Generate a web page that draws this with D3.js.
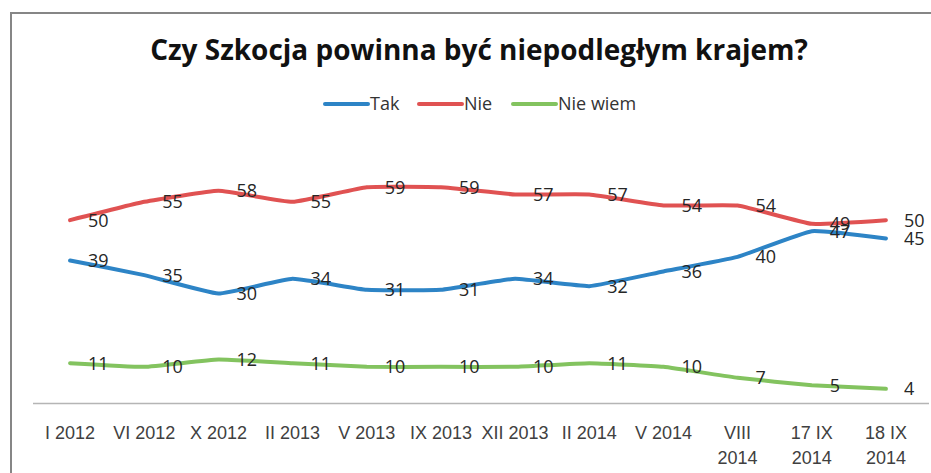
<!DOCTYPE html>
<html>
<head>
<meta charset="utf-8">
<script src="https://cdn.jsdelivr.net/npm/d3@7"></script>
<style>
  html, body { margin: 0; padding: 0; background: #fff; }
  svg { display: block; font-family: "Open Sans", "DejaVu Sans", sans-serif; }
</style>
</head>
<body>
<svg id="chart" width="931" height="473"></svg>
<script>
const title = "Czy Szkocja powinna być niepodległym krajem?";
const categories = ["I 2012", "VI 2012", "X 2012", "II 2013", "V 2013", "IX 2013",
  "XII 2013", "II 2014", "V 2014", "VIII\n2014", "17 IX\n2014", "18 IX\n2014"];
const seriesNames = ["Tak", "Nie", "Nie wiem"];
const tak     = [39, 35, 30, 34, 31, 31, 34, 32, 36, 40, 47, 45];
const nie     = [50, 55, 58, 55, 59, 59, 57, 57, 54, 54, 49, 50];
const nieWiem = [11, 10, 12, 11, 10, 10, 10, 11, 10, 7, 5, 4];
const colors  = ["#2d84c6", "#e05252", "#83c35f"];
const yDomain = [0, 70];

const series = [tak, nie, nieWiem].map((vals, i) => ({
  name: seriesNames[i], color: colors[i], values: vals
}));

const svg = d3.select("#chart");
const W = 931, H = 473;

// frame
svg.append("path")
  .attr("d", `M11,${H} L11,13 L${W},13`)
  .attr("fill", "none").attr("stroke", "#868686").attr("stroke-width", 2);

// title (fitted to reference width)
const t = svg.append("text")
  .attr("x", 479).attr("y", 60)
  .attr("text-anchor", "middle")
  .attr("font-weight", "bold")
  .attr("font-size", 27)
  .attr("fill", "#111")
  .text(title);
const tw = t.node().getComputedTextLength();
t.attr("font-size", 27 * 658 / tw);

// scales
const x = d3.scaleBand().domain(categories).range([33, 923]).padding(0);
const cx = c => x(c) + x.bandwidth() / 2;
const y = d3.scaleLinear().domain(yDomain).range([403.5, 146.8]);

// axis
const axisG = svg.append("g").attr("transform", `translate(0,${y(0)})`);
axisG.call(d3.axisBottom(x).tickSize(0).tickSizeOuter(0).tickFormat(""));
axisG.select(".domain").attr("stroke", "#b5b5b5").attr("stroke-width", 1.6)
  .attr("d", `M33,0H929`);
axisG.selectAll(".tick").each(function(d) {
  const g = d3.select(this);
  g.select("text").remove();
  const lines = d.split("\n");
  const txt = g.append("text")
    .attr("fill", "#404040").attr("font-size", 18)
    .attr("text-anchor", "middle");
  lines.forEach((ln, k) => {
    txt.append("tspan").attr("x", 0).attr("y", 35 + k * 25).text(ln);
  });
});

// lines
const line = d3.line()
  .x((v, i) => cx(categories[i]))
  .y(v => y(v))
  .curve(d3.curveCardinal.tension(0.65));

series.forEach(s => {
  svg.append("path")
    .datum(s.values)
    .attr("fill", "none")
    .attr("stroke", s.color)
    .attr("stroke-width", 4)
    .attr("stroke-linejoin", "round")
    .attr("stroke-linecap", "round")
    .attr("d", line);
});

// data labels
series.forEach(s => {
  svg.append("g").selectAll("text")
    .data(s.values)
    .join("text")
    .attr("x", (v, i) => cx(categories[i]) + 18)
    .attr("y", v => y(v))
    .attr("dy", "0.36em")
    .attr("font-size", 18)
    .attr("fill", "#262626")
    .text(v => v);
});

// legend
const legendItems = [
  { x0: 325, x1: 368, tx: 370 },
  { x0: 419, x1: 462, tx: 464 },
  { x0: 513, x1: 556, tx: 558 }
];
series.forEach((s, i) => {
  const li = legendItems[i];
  svg.append("line")
    .attr("x1", li.x0).attr("x2", li.x1)
    .attr("y1", 104).attr("y2", 104)
    .attr("stroke", s.color).attr("stroke-width", 4)
    .attr("stroke-linecap", "round");
  svg.append("text")
    .attr("x", li.tx).attr("y", 104).attr("dy", "0.36em")
    .attr("font-size", 18).attr("fill", "#333")
    .text(s.name);
});
</script>
</body>
</html>
